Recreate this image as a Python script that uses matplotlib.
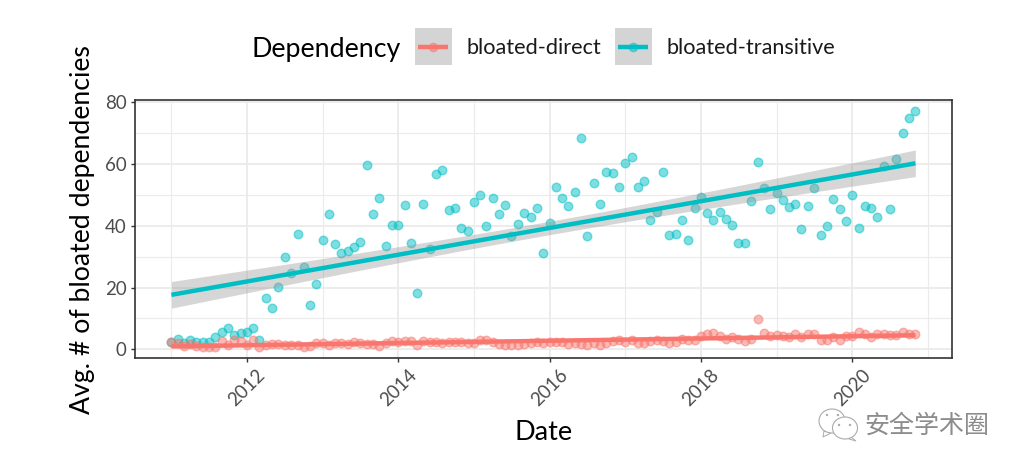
import numpy as np
import pandas as pd
import matplotlib
matplotlib.use("Agg")
import matplotlib.pyplot as plt
import matplotlib.dates as mdates
from matplotlib import transforms
from matplotlib.lines import Line2D
from matplotlib.patches import Rectangle, Ellipse, Polygon

plt.rcParams['font.family'] = ['Lato', 'DejaVu Sans']

dates = pd.date_range("2011-01-01", periods=119, freq="MS")
transitive = [2.5,3.3,1.9,2.9,2.5,2.3,2.5,4.1,5.7,6.8,4.6,5.2,5.7,6.9,3.1,16.5,13.4,20.2,29.9,24.6,
 37.4,26.8,14.2,21.3,35.5,43.8,34.2,31.1,31.9,33.2,34.6,59.8,43.7,49.0,33.4,40.2,40.2,46.8,34.4,18.3,
 47.0,32.4,56.6,58.1,45.1,45.7,39.3,38.4,47.8,49.8,40.0,49.1,43.9,46.8,36.7,40.6,44.0,42.8,45.8,31.1,
 40.8,52.5,49.1,46.3,50.9,68.4,36.8,53.8,46.9,57.3,57.0,52.6,60.4,62.4,52.4,54.4,42.0,44.6,57.4,36.9,
 37.4,42.0,35.4,45.8,49.4,44.1,42.0,44.6,42.2,40.3,34.3,34.4,48.0,60.7,52.3,45.5,50.5,48.4,46.0,47.0,
 39.0,46.4,52.3,36.9,39.9,48.8,45.3,41.4,49.9,39.3,46.5,45.6,42.8,59.2,45.5,61.6,70.0,75.0,77.1]
direct = [2.3,1.9,1.0,1.7,1.2,0.9,0.8,0.9,2.8,1.4,3.0,2.8,1.4,3.0,0.6,1.3,1.7,1.7,1.4,1.3,
 1.3,0.8,1.0,2.2,1.9,1.3,2.2,1.9,1.6,2.4,1.9,1.6,1.7,1.2,2.2,2.6,2.3,2.6,2.6,1.3,
 2.6,2.5,2.3,1.9,2.5,2.5,2.3,2.0,2.2,3.0,3.0,2.3,1.8,1.4,1.4,1.4,1.7,2.2,2.3,1.9,
 2.4,2.5,2.3,1.6,1.9,1.6,1.3,2.2,1.5,1.9,2.7,3.1,2.3,3.0,2.0,1.9,2.8,3.0,2.8,1.9,
 2.3,3.5,3.0,3.0,4.3,4.9,5.4,4.3,3.2,3.9,3.5,2.8,3.5,9.8,5.4,4.3,4.7,4.2,4.1,5.0,
 4.0,4.9,4.9,3.0,2.9,4.0,3.1,4.3,4.3,5.7,4.9,4.0,4.9,4.9,4.5,4.5,5.7,5.0,5.0]
series_names = ["bloated-direct", "bloated-transitive"]
series_colors = ["#F8766D", "#00BFC4"]
major_years = [2012, 2014, 2016, 2018, 2020]
minor_years = [2011, 2013, 2015, 2017, 2019, 2021]
y_major = [0, 20, 40, 60, 80]
y_minor = [10, 30, 50, 70]

W, H = 1023, 471
fig = plt.figure(figsize=(W/100, H/100), dpi=100)
L, R, T, B = 135, 952, 100, 358.3
ax = fig.add_axes([L/W, 1-B/H, (R-L)/W, (B-T)/H])
x = mdates.date2num(dates)
d2012 = mdates.date2num(pd.Timestamp("2012-01-01"))
ppy = 75.65
ax.set_xlim(d2012 + (L-247)/ppy*365.25, d2012 + (R-247)/ppy*365.25)
ax.set_ylim(-2.9, 80.7)

ax.set_xticks([mdates.date2num(pd.Timestamp(f"{y}-01-01")) for y in major_years])
ax.set_xticklabels([str(y) for y in major_years], rotation=45, ha='center', va='top',
                   fontsize=13.5, color="#4D4D4D")
ax.set_xticks([mdates.date2num(pd.Timestamp(f"{y}-01-01")) for y in minor_years], minor=True)
ax.set_yticks(y_major)
ax.set_yticks(y_minor, minor=True)
ax.tick_params(axis='y', labelsize=13.5, labelcolor="#4D4D4D", length=3, width=1, color="#333333", pad=3)
ax.tick_params(axis='x', length=3, width=1, color="#333333", pad=3)
ax.tick_params(which='minor', length=0)
ax.grid(which='major', color="#EBEBEB", lw=1.3)
ax.grid(which='minor', color="#EBEBEB", lw=0.8)
ax.set_axisbelow(True)
for s in ax.spines.values():
    s.set_color("#333333")
    s.set_linewidth(1.2)
    s.set_zorder(10)

ax.set_xlabel("Date", fontsize=19.5, labelpad=0)
ax.xaxis.set_label_coords((544-L)/(R-L), 1-(433-T)/(B-T), transform=ax.transAxes)
ax.xaxis.label.set_va('center')
fig.text(83/W, 1-230/H, "Avg. # of bloated dependencies", rotation=90, fontsize=19.2,
         ha='center', va='center')

def lm_band(xv, yv):
    xv = np.asarray(xv, float); yv = np.asarray(yv, float)
    n = len(xv); xm = xv.mean(); sxx = ((xv-xm)**2).sum()
    b = ((xv-xm)*(yv-yv.mean())).sum()/sxx
    a = yv.mean()-b*xm
    fit = a+b*xv
    s = np.sqrt(((yv-fit)**2).sum()/(n-2))
    se = s*np.sqrt(1/n+(xv-xm)**2/sxx)
    return fit, fit-1.98*se, fit+1.98*se

for vals, c in zip([transitive, direct], series_colors[::-1]):
    ax.scatter(x, vals, s=38, color=c, alpha=0.5, linewidths=1.0, zorder=3)
for vals, c in zip([direct, transitive], series_colors):
    fit, lo, hi = lm_band(x, vals)
    ax.fill_between(x, lo, hi, color="#999999", alpha=0.4, lw=0, zorder=4)
    ax.plot(x, fit, color=c, lw=3.2, zorder=5, solid_capstyle='butt')

# legend, placed in pixels
px = transforms.Affine2D().scale(1, -1).translate(0, H)
fig.text(251/W, 1-49/H, "Dependency", fontsize=19.3, va='center', ha='left', color="black")
for k0, tx, name, c in zip([415, 615], [466, 667], series_names, series_colors):
    fig.add_artist(Rectangle((k0, 28), 37, 37, transform=px, facecolor="#D4D4D4", edgecolor='none'))
    fig.add_artist(Line2D([k0+3, k0+33], [47, 47], transform=px, color=c, lw=3.2, solid_capstyle='butt'))
    fig.add_artist(Line2D([k0+18], [47], transform=px, marker='o', ms=6, color=c, alpha=0.5, ls='none'))
    fig.text(tx/W, 1-48/H, name, fontsize=15.6, va='center', ha='left', color="#1a1a1a")

# watermark
for (cx, cy, rx, ry), tail in zip([(832, 421, 13, 12), (845, 428, 12.5, 11)],
                                  [[(824, 431), (823, 437), (831, 433)], [(851, 437), (856, 441), (849, 439)]]):
    fig.add_artist(Polygon(tail, closed=True, transform=px, fc='white', ec='#AAAAAA', lw=0.7))
    fig.add_artist(Ellipse((cx, cy), 2*rx, 2*ry, transform=px, fc='white', ec='#AAAAAA', lw=0.8))
for ex, ey in [(827, 415), (838, 415), (839, 425), (850, 425)]:
    fig.add_artist(Ellipse((ex, ey), 2.4, 2.4, transform=px, fc='#AAAAAA', ec='none'))
fig.text(927/W, 1-426/H, "安全学术圈", family=['Noto Sans CJK SC', 'DejaVu Sans'], fontsize=18,
         color="#8C8C8C", ha='center', va='center')

fig.savefig("out.png", dpi=100, facecolor='white')
